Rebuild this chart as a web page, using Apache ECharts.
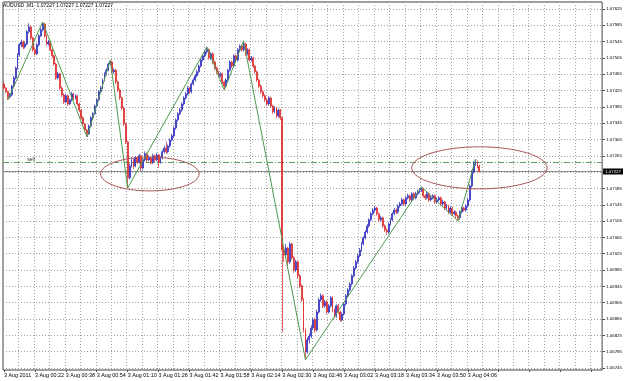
<!DOCTYPE html>
<html><head><meta charset="utf-8">
<script src="https://cdn.jsdelivr.net/npm/echarts@6/dist/echarts.min.js"></script>
<style>html,body{margin:0;padding:0;background:#fff}#c{width:625px;height:381px}</style>
</head><body><div id="c"></div>
<script>
// M1 bars, AUDUSD, 3 Aug 2011 from 00:06
const opens = [
1.07441,1.07431,1.07422,1.07409,1.07414,1.07436,1.07456,1.07480,1.07512,1.07537,
1.07544,1.07532,1.07539,1.07569,1.07581,1.07554,1.07525,1.07515,1.07537,1.07559,
1.07574,1.07588,1.07559,1.07539,1.07544,1.07525,1.07510,1.07490,1.07456,1.07466,
1.07431,1.07414,1.07397,1.07412,1.07392,1.07402,1.07417,1.07407,1.07412,1.07392,
1.07377,1.07358,1.07343,1.07328,1.07319,1.07338,1.07358,1.07368,1.07387,1.07402,
1.07422,1.07431,1.07451,1.07466,1.07475,1.07490,1.07495,1.07471,1.07475,1.07446,
1.07426,1.07407,1.07382,1.07343,1.07299,1.07211,1.07240,1.07255,1.07240,1.07260,
1.07250,1.07265,1.07235,1.07255,1.07270,1.07255,1.07260,1.07248,1.07265,1.07255,
1.07267,1.07250,1.07260,1.07275,1.07284,1.07275,1.07289,1.07304,1.07314,1.07333,
1.07353,1.07368,1.07377,1.07392,1.07407,1.07417,1.07431,1.07422,1.07441,1.07451,
1.07461,1.07471,1.07485,1.07500,1.07510,1.07520,1.07525,1.07505,1.07515,1.07495,
1.07480,1.07471,1.07461,1.07466,1.07446,1.07436,1.07451,1.07475,1.07495,1.07485,
1.07510,1.07500,1.07525,1.07534,1.07525,1.07539,1.07515,1.07525,1.07500,1.07505,
1.07485,1.07471,1.07451,1.07436,1.07422,1.07412,1.07402,1.07392,1.07407,1.07387,
1.07373,1.07382,1.07363,1.07377,1.07358,1.07034,1.07022,1.07039,1.07005,1.07049,
1.07015,1.06985,1.07005,1.06971,1.06946,1.06912,1.06838,1.06784,1.06814,1.06823,
1.06843,1.06863,1.06838,1.06882,1.06912,1.06922,1.06897,1.06907,1.06882,1.06897,
1.06917,1.06887,1.06872,1.06897,1.06882,1.06863,1.06877,1.06902,1.06922,1.06936,
1.06951,1.06971,1.06990,1.07005,1.07020,1.07034,1.07049,1.07064,1.07078,1.07093,
1.07108,1.07123,1.07132,1.07137,1.07123,1.07108,1.07113,1.07093,1.07083,1.07078,
1.07098,1.07108,1.07123,1.07132,1.07127,1.07142,1.07147,1.07157,1.07147,1.07162,
1.07167,1.07157,1.07172,1.07162,1.07172,1.07177,1.07181,1.07184,1.07167,1.07162,
1.07172,1.07157,1.07162,1.07167,1.07152,1.07157,1.07162,1.07147,1.07152,1.07137,
1.07142,1.07127,1.07137,1.07123,1.07127,1.07118,1.07113,1.07127,1.07137,1.07132,
1.07142,1.07157,1.07191,1.07226,1.07245,1.07250,1.07240];
const closes = [
1.07431,1.07422,1.07409,1.07414,1.07436,1.07456,1.07480,1.07512,1.07537,1.07544,
1.07532,1.07539,1.07569,1.07581,1.07554,1.07525,1.07515,1.07537,1.07559,1.07574,
1.07588,1.07559,1.07539,1.07544,1.07525,1.07510,1.07490,1.07456,1.07466,1.07431,
1.07414,1.07397,1.07412,1.07392,1.07402,1.07417,1.07407,1.07412,1.07392,1.07377,
1.07358,1.07343,1.07328,1.07319,1.07338,1.07358,1.07368,1.07387,1.07402,1.07422,
1.07431,1.07451,1.07466,1.07475,1.07490,1.07495,1.07471,1.07475,1.07446,1.07426,
1.07407,1.07382,1.07343,1.07299,1.07211,1.07240,1.07255,1.07240,1.07260,1.07250,
1.07265,1.07235,1.07255,1.07270,1.07255,1.07260,1.07248,1.07265,1.07255,1.07267,
1.07250,1.07260,1.07275,1.07284,1.07275,1.07289,1.07304,1.07314,1.07333,1.07353,
1.07368,1.07377,1.07392,1.07407,1.07417,1.07431,1.07422,1.07441,1.07451,1.07461,
1.07471,1.07485,1.07500,1.07510,1.07520,1.07525,1.07505,1.07515,1.07495,1.07480,
1.07471,1.07461,1.07466,1.07446,1.07436,1.07451,1.07475,1.07495,1.07485,1.07510,
1.07500,1.07525,1.07534,1.07525,1.07539,1.07515,1.07525,1.07500,1.07505,1.07485,
1.07471,1.07451,1.07436,1.07422,1.07412,1.07402,1.07392,1.07407,1.07387,1.07373,
1.07382,1.07363,1.07377,1.07358,1.07034,1.07022,1.07039,1.07005,1.07049,1.07015,
1.06985,1.07005,1.06971,1.06946,1.06912,1.06838,1.06784,1.06814,1.06823,1.06843,
1.06863,1.06838,1.06882,1.06912,1.06922,1.06897,1.06907,1.06882,1.06897,1.06917,
1.06887,1.06872,1.06897,1.06882,1.06863,1.06877,1.06902,1.06922,1.06936,1.06951,
1.06971,1.06990,1.07005,1.07020,1.07034,1.07049,1.07064,1.07078,1.07093,1.07108,
1.07123,1.07132,1.07137,1.07123,1.07108,1.07113,1.07093,1.07083,1.07078,1.07098,
1.07108,1.07123,1.07132,1.07127,1.07142,1.07147,1.07157,1.07147,1.07162,1.07167,
1.07157,1.07172,1.07162,1.07172,1.07177,1.07181,1.07184,1.07167,1.07162,1.07172,
1.07157,1.07162,1.07167,1.07152,1.07157,1.07162,1.07147,1.07152,1.07137,1.07142,
1.07127,1.07137,1.07123,1.07127,1.07118,1.07113,1.07127,1.07137,1.07132,1.07142,
1.07157,1.07191,1.07226,1.07245,1.07250,1.07240,1.07227];
const highs = [
1.07446,1.07434,1.07425,1.07419,1.07439,1.07461,1.07484,1.07517,1.07541,1.07550,
1.07548,1.07545,1.07573,1.07590,1.07584,1.07557,1.07529,1.07541,1.07563,1.07579,
1.07593,1.07591,1.07562,1.07549,1.07547,1.07528,1.07513,1.07493,1.07471,1.07468,
1.07435,1.07418,1.07417,1.07415,1.07406,1.07422,1.07420,1.07416,1.07414,1.07395,
1.07380,1.07362,1.07346,1.07331,1.07342,1.07362,1.07372,1.07391,1.07406,1.07426,
1.07436,1.07455,1.07470,1.07480,1.07494,1.07500,1.07498,1.07480,1.07478,1.07449,
1.07430,1.07410,1.07385,1.07346,1.07302,1.07246,1.07262,1.07258,1.07265,1.07264,
1.07270,1.07268,1.07259,1.07276,1.07273,1.07266,1.07263,1.07270,1.07268,1.07272,
1.07270,1.07264,1.07279,1.07290,1.07300,1.07293,1.07308,1.07319,1.07337,1.07357,
1.07372,1.07382,1.07396,1.07411,1.07422,1.07436,1.07434,1.07445,1.07456,1.07465,
1.07476,1.07489,1.07504,1.07515,1.07524,1.07532,1.07528,1.07519,1.07518,1.07498,
1.07484,1.07474,1.07470,1.07469,1.07449,1.07455,1.07479,1.07499,1.07498,1.07514,
1.07513,1.07529,1.07538,1.07537,1.07547,1.07542,1.07529,1.07528,1.07510,1.07508,
1.07488,1.07474,1.07454,1.07440,1.07426,1.07416,1.07406,1.07411,1.07410,1.07390,
1.07387,1.07385,1.07381,1.07380,1.07362,1.07044,1.07049,1.07042,1.07054,1.07052,
1.07020,1.07010,1.07008,1.06975,1.06950,1.06916,1.06842,1.06820,1.06830,1.06850,
1.06868,1.06868,1.06888,1.06917,1.06928,1.06926,1.06912,1.06911,1.06902,1.06922,
1.06921,1.06891,1.06901,1.06902,1.06886,1.06882,1.06906,1.06926,1.06941,1.06956,
1.06975,1.06995,1.07010,1.07025,1.07039,1.07054,1.07068,1.07083,1.07098,1.07112,
1.07127,1.07137,1.07142,1.07140,1.07126,1.07118,1.07116,1.07097,1.07087,1.07102,
1.07113,1.07127,1.07137,1.07136,1.07146,1.07152,1.07162,1.07160,1.07166,1.07172,
1.07170,1.07176,1.07175,1.07177,1.07182,1.07186,1.07189,1.07187,1.07171,1.07176,
1.07175,1.07167,1.07171,1.07170,1.07162,1.07166,1.07165,1.07157,1.07155,1.07147,
1.07145,1.07141,1.07140,1.07132,1.07130,1.07121,1.07131,1.07141,1.07140,1.07146,
1.07161,1.07195,1.07230,1.07252,1.07257,1.07254,1.07243];
const lows = [
1.07428,1.07418,1.07402,1.07405,1.07411,1.07433,1.07452,1.07476,1.07508,1.07531,
1.07526,1.07528,1.07536,1.07565,1.07549,1.07520,1.07511,1.07512,1.07533,1.07556,
1.07570,1.07554,1.07535,1.07535,1.07521,1.07505,1.07486,1.07451,1.07452,1.07426,
1.07409,1.07392,1.07394,1.07387,1.07389,1.07398,1.07402,1.07403,1.07388,1.07372,
1.07354,1.07338,1.07324,1.07311,1.07316,1.07335,1.07354,1.07365,1.07383,1.07398,
1.07418,1.07428,1.07447,1.07462,1.07472,1.07486,1.07467,1.07466,1.07441,1.07421,
1.07402,1.07377,1.07338,1.07294,1.07186,1.07207,1.07236,1.07233,1.07237,1.07245,
1.07246,1.07228,1.07231,1.07251,1.07249,1.07252,1.07244,1.07245,1.07250,1.07251,
1.07236,1.07246,1.07256,1.07271,1.07270,1.07271,1.07285,1.07300,1.07310,1.07329,
1.07349,1.07364,1.07373,1.07388,1.07403,1.07413,1.07417,1.07418,1.07437,1.07447,
1.07457,1.07467,1.07481,1.07496,1.07506,1.07515,1.07501,1.07500,1.07490,1.07476,
1.07466,1.07456,1.07457,1.07441,1.07426,1.07432,1.07447,1.07471,1.07480,1.07481,
1.07495,1.07496,1.07520,1.07520,1.07521,1.07510,1.07511,1.07496,1.07496,1.07480,
1.07466,1.07446,1.07431,1.07417,1.07407,1.07397,1.07388,1.07388,1.07383,1.07368,
1.07369,1.07358,1.07359,1.07353,1.06833,1.07005,1.07015,1.06995,1.07000,1.07010,
1.06978,1.06980,1.06965,1.06940,1.06907,1.06832,1.06765,1.06780,1.06805,1.06818,
1.06838,1.06832,1.06834,1.06878,1.06907,1.06892,1.06892,1.06877,1.06878,1.06893,
1.06882,1.06867,1.06868,1.06877,1.06858,1.06859,1.06873,1.06898,1.06918,1.06932,
1.06947,1.06967,1.06986,1.07001,1.07016,1.07030,1.07045,1.07060,1.07074,1.07089,
1.07104,1.07119,1.07128,1.07118,1.07103,1.07104,1.07088,1.07078,1.07071,1.07074,
1.07094,1.07104,1.07119,1.07122,1.07123,1.07138,1.07143,1.07142,1.07143,1.07158,
1.07152,1.07153,1.07157,1.07158,1.07168,1.07173,1.07176,1.07162,1.07157,1.07158,
1.07152,1.07153,1.07158,1.07147,1.07148,1.07153,1.07142,1.07143,1.07132,1.07133,
1.07122,1.07123,1.07118,1.07119,1.07113,1.07105,1.07109,1.07123,1.07128,1.07128,
1.07138,1.07153,1.07187,1.07221,1.07240,1.07234,1.07224];

const xTickLabels = ["3 Aug 2011","3 Aug 00:22","3 Aug 00:38","3 Aug 00:54","3 Aug 01:10","3 Aug 01:26",
  "3 Aug 01:42","3 Aug 01:58","3 Aug 02:14","3 Aug 02:30","3 Aug 02:46","3 Aug 03:02","3 Aug 03:18",
  "3 Aug 03:34","3 Aug 03:50","3 Aug 04:06"];
const yTicks = [1.06745,1.06785,1.06825,1.06865,1.06905,1.06945,1.06985,1.07025,1.07065,1.07105,1.07145,
  1.07185,1.07225,1.07265,1.07305,1.07345,1.07385,1.07425,1.07465,1.07505,1.07545,1.07585,1.07625];
// ZigZag vertices: bar index and price
const zigzagIdx = [2,20,43,55,64,105,114,124,156,216,235,244];
const zigzagPrice = [1.07402,1.07593,1.07311,1.07500,1.07186,1.07532,1.07426,1.07547,1.06765,1.07189,1.07105,1.07257];
const currentPrice = 1.07227;
const levelPrice = 1.07250;
// ellipses: [fromIdx, toIdx, topPrice, bottomPrice]
const ellipseBoxes = [[50,101,1.07262,1.07179],[211,281,1.07287,1.07184]];
const noteLabel = {idx:14, price:1.07256, text:'sell'};
const titleText = 'AUDUSD ,M1  1.07227 1.07227 1.07227 1.07227';

const startMinute = 6, nSlots = 310;
const categories = Array.from({length:nSlots}, (_, i) => {
  const m = startMinute + i;
  return String(Math.floor(m / 60)).padStart(2, '0') + ':' + String(m % 60).padStart(2, '0');
});
const candleData = opens.map((o, i) => [o, closes[i], lows[i], highs[i]]);
const zigzagData = zigzagIdx.map((x, i) => [x, zigzagPrice[i]]);
const levelData = [[0, levelPrice, 0], [0, currentPrice, 1]];

const chart = echarts.init(document.getElementById('c'), null, {renderer:'canvas'});
const FONT = 'Liberation Sans, Arial, sans-serif';
chart.setOption({
  animation:false,
  backgroundColor:'#fff',
  title:{text:titleText, left:3, top:3, padding:0, textStyle:{fontSize:5, fontWeight:'normal', color:'#000', fontFamily:FONT}},
  grid:{left:3, right:22, top:2, bottom:11, show:true, borderColor:'#404040', borderWidth:1},
  xAxis:{type:'category', data:categories, boundaryGap:true,
    axisLine:{show:false},
    axisTick:{show:true, interval:15, alignWithLabel:true, length:2, lineStyle:{color:'#555'}},
    axisLabel:{interval:15, formatter:(v, i) => xTickLabels[i / 16] || '', align:'left', fontSize:5.4, color:'#000', margin:3, fontFamily:FONT},
    splitLine:{show:true, interval:7, lineStyle:{color:'#a0a0a0', type:[1,2], width:1}}},
  yAxis:{type:'value', position:'right', min:1.0674, max:1.07642, scale:true,
    axisLine:{show:false},
    axisTick:{show:true, customValues:yTicks, length:3, lineStyle:{color:'#555'}},
    axisLabel:{customValues:yTicks, formatter:v => v.toFixed(5), fontSize:4.4, color:'#000', margin:4, fontFamily:FONT},
    splitLine:{show:true, lineStyle:{color:'#a0a0a0', type:[1,2], width:1}}},
  series:[
    {type:'custom', data:levelData, z:2, clip:false, encode:{x:0, y:1},
      renderItem:(params, api) => {
        const cs = params.coordSys;
        const y = Math.round(api.coord([0, api.value(1)])[1]) + 0.5;
        if (api.value(2) === 0) {
          return {type:'line', shape:{x1:cs.x, y1:y, x2:cs.x + cs.width, y2:y},
            style:{stroke:'#5aa05a', lineDash:[6,2,1,2], lineWidth:1}};
        }
        return {type:'group', children:[
          {type:'line', shape:{x1:cs.x, y1:y, x2:cs.x + cs.width, y2:y}, style:{stroke:'#8c8c8c', lineWidth:1}},
          {type:'text', x:cs.x + cs.width + 1, y:y, style:{text:currentPrice.toFixed(5), fill:'#fff', backgroundColor:'#000',
            font:'4.4px ' + FONT, verticalAlign:'middle', align:'left', padding:[1,2,1,2]}}
        ]};
      }},
    {type:'candlestick', data:candleData, barWidth:1.4, z:3,
      itemStyle:{color:'#2a2ac0', color0:'#dc2424', borderColor:'#2a2ac0', borderColor0:'#dc2424', borderWidth:0.7}},
    {type:'line', data:zigzagData, symbol:'none', z:4, lineStyle:{color:'#4f994f', width:1},
      markPoint:{silent:true, animation:false, data:[
        {coord:[noteLabel.idx, noteLabel.price], symbol:'circle', symbolSize:0, label:{show:true, position:'inside', formatter:noteLabel.text, fontSize:5, color:'#222', fontFamily:FONT}}
      ]}},
    {type:'custom', data:ellipseBoxes, z:5, clip:false, encode:{x:[0,1], y:[2,3]},
      renderItem:(params, api) => {
        const a = api.coord([api.value(0), api.value(2)]);
        const b = api.coord([api.value(1), api.value(3)]);
        return {type:'ellipse', shape:{cx:(a[0]+b[0])/2, cy:(a[1]+b[1])/2, rx:Math.abs(b[0]-a[0])/2, ry:Math.abs(b[1]-a[1])/2},
          style:{fill:'none', stroke:'#a85555', lineWidth:1}};
      }}
  ]
});
</script></body></html>
